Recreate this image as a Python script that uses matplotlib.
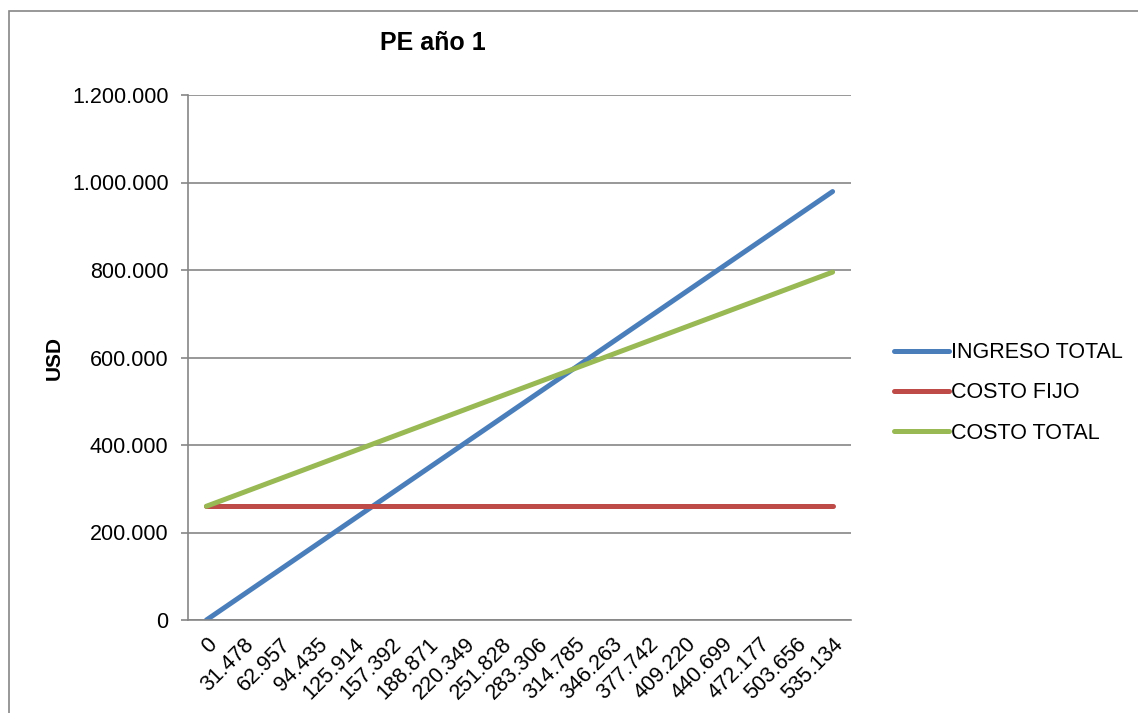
import matplotlib.pyplot as plt
from matplotlib.patches import Rectangle
from matplotlib.ticker import FuncFormatter

# unidades vendidas (eje de categorías)
unidades = ["0", "31.478", "62.957", "94.435", "125.914", "157.392", "188.871",
            "220.349", "251.828", "283.306", "314.785", "346.263", "377.742",
            "409.220", "440.699", "472.177", "503.656", "535.134"]

ingreso_total = [0, 57605, 115211, 172816, 230423, 288027, 345634, 403239,
                 460845, 518450, 576057, 633661, 691268, 748873, 806479,
                 864084, 921690, 979295]
costo_fijo = [260000] * 18
costo_total = [260000, 291478, 322957, 354435, 385914, 417392, 448871, 480349,
               511828, 543306, 574785, 606263, 637742, 669220, 700699,
               732177, 763656, 795134]

plt.rcParams['font.family'] = ['Liberation Sans', 'DejaVu Sans']

fig = plt.figure(figsize=(11.38, 7.13), dpi=100)
ax = fig.add_axes([188/1138, 93/713, 663/1138, 525/713])

# marco exterior del gráfico
fig.patches.append(Rectangle((9/1138, -0.05), 1.2, 1 - 11/713 + 0.05,
                             transform=fig.transFigure, fill=False,
                             edgecolor="#868686", linewidth=1.2))

x = range(len(unidades))
ax.plot(x, ingreso_total, color="#4A7EBB", lw=3.6, solid_capstyle="round", label="INGRESO TOTAL")
ax.plot(x, costo_fijo, color="#BE4B48", lw=3.6, solid_capstyle="round", label="COSTO FIJO")
ax.plot(x, costo_total, color="#98B954", lw=3.6, solid_capstyle="round", label="COSTO TOTAL")

ax.set_xlim(-0.5, len(unidades) - 0.5)
ax.set_ylim(0, 1200000)
ax.set_yticks(range(0, 1200001, 200000))
ax.yaxis.set_major_formatter(FuncFormatter(lambda v, p: f"{int(v):,}".replace(",", ".")))
ax.grid(axis="y", color="#868686", lw=1.2)
ax.set_axisbelow(True)

ax.set_xticks(list(x))
ax.set_xticklabels(unidades, rotation=45, ha="right", va="top", rotation_mode="anchor")
ax.tick_params(axis="x", length=0, pad=10, labelsize=15.5)
ax.tick_params(axis="y", length=5, color="#868686", width=1.2, labelsize=15.5, pad=9)

for s in ["top", "right"]:
    ax.spines[s].set_visible(False)
for s in ["left", "bottom"]:
    ax.spines[s].set_color("#868686")
    ax.spines[s].set_linewidth(1.2)

ax.set_ylabel("USD", fontsize=15, fontweight="bold", labelpad=6)
fig.text(433/1138, 1 - 43/713, "PE año 1", fontsize=18, fontweight="bold",
         ha="center", va="center")

fig.legend(loc="center left", bbox_to_anchor=(883/1138, 1 - 393/713), frameon=False,
           fontsize=15.5, handlelength=2.55, handletextpad=0.12, labelspacing=0.9,
           borderpad=0)

fig.savefig("out.png", dpi=100)
